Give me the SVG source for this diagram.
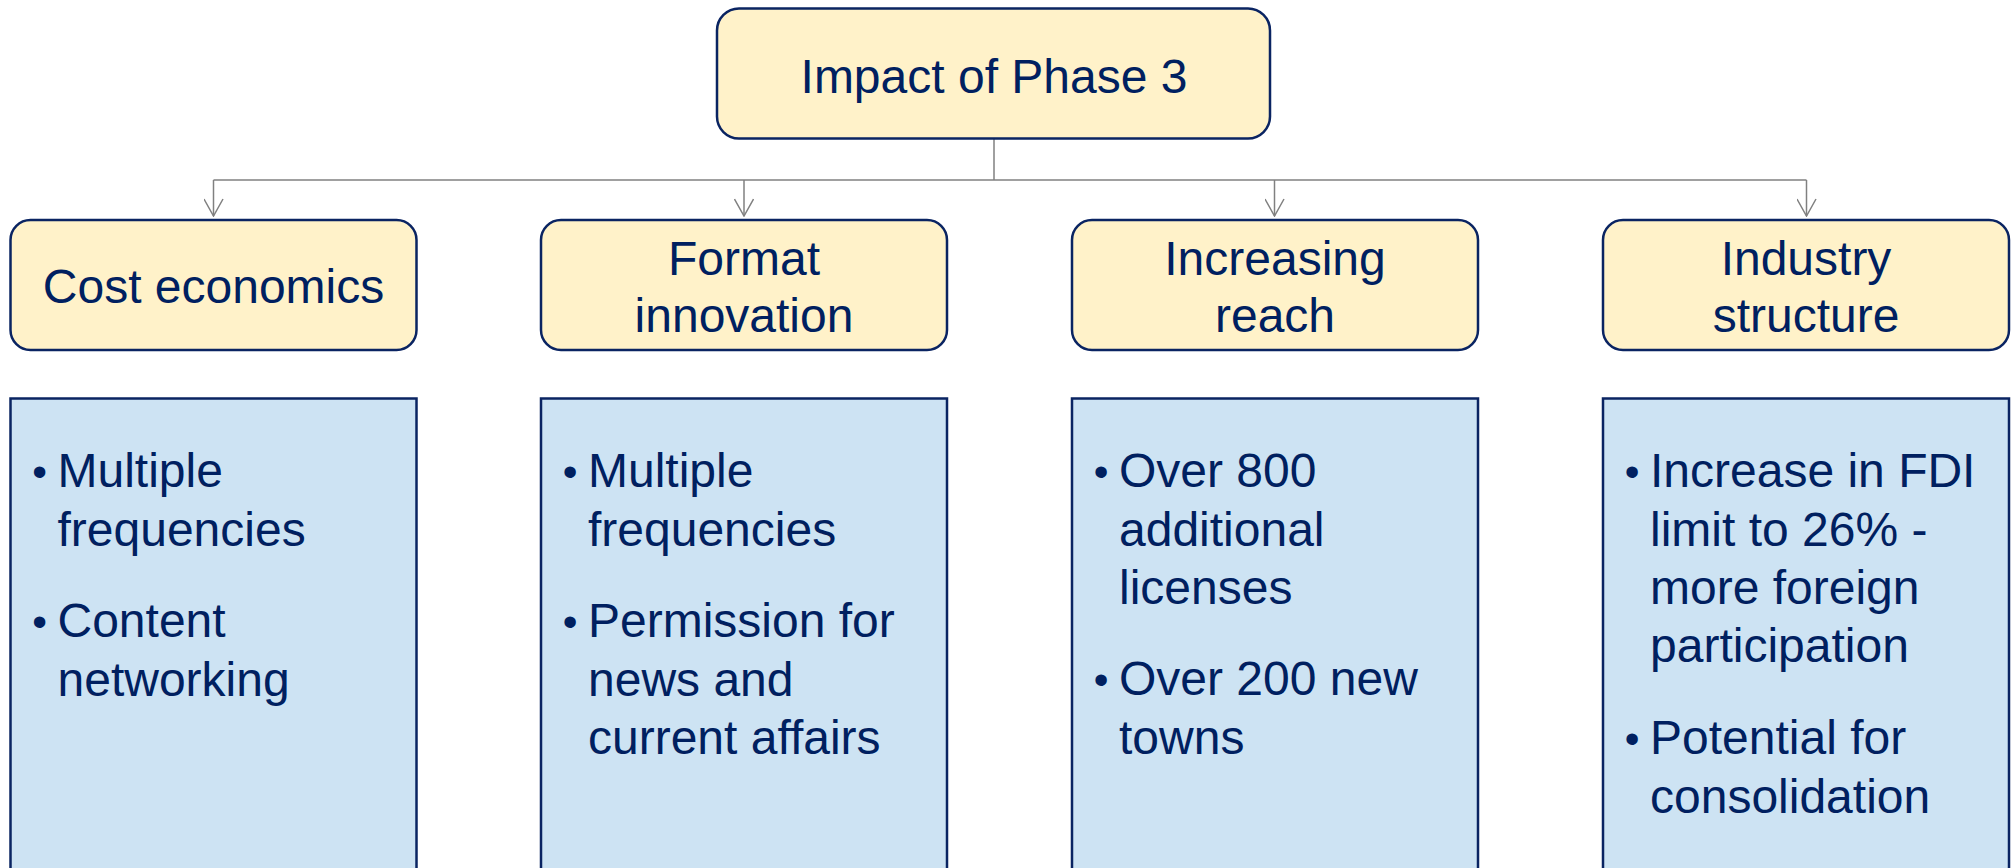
<svg xmlns="http://www.w3.org/2000/svg" width="2011" height="868" viewBox="0 0 2011 868">
<style>
.hdr{fill:#FFF2C9;stroke:#0A2462;stroke-width:2.5}
.body{fill:#CDE3F3;stroke:#0A2462;stroke-width:2.5}
.t{font-family:"Liberation Sans",Arial,sans-serif;font-size:48px;fill:#002060}
.c{text-anchor:middle}
.b{text-anchor:middle;font-size:42px}
.conn{fill:none;stroke:#808080;stroke-width:1.5}
</style>
<defs>
<marker id="arr" markerUnits="userSpaceOnUse" viewBox="0 0 20 20" refX="19" refY="10" markerWidth="20" markerHeight="20" orient="auto">
<path d="M2,0.5 L19,10 L2,19.5" fill="none" stroke="#808080" stroke-width="1.5"/>
</marker>
</defs>
<rect width="2011" height="868" fill="#FFFFFF"/>
<g id="connectors">
<path class="conn" d="M994,138 V180"/>
<path class="conn" d="M213.5,180 H1806.5"/>
<path class="conn" d="M213.5,180 V216" marker-end="url(#arr)"/>
<path class="conn" d="M744,180 V216" marker-end="url(#arr)"/>
<path class="conn" d="M1274.5,180 V216" marker-end="url(#arr)"/>
<path class="conn" d="M1806.5,180 V216" marker-end="url(#arr)"/>
</g>
<g id="root">
<rect class="hdr" x="717" y="8.5" width="553" height="130" rx="22"/>
<text class="t c" x="994" y="93">Impact of Phase 3</text>
</g>
<g id="cost-economics">
<rect class="hdr" x="10.5" y="220" width="406" height="130" rx="20"/>
<text class="t c" x="213.5" y="303">Cost economics</text>
</g>
<g id="format-innovation">
<rect class="hdr" x="541" y="220" width="406" height="130" rx="20"/>
<text class="t c" x="744" y="275">Format</text>
<text class="t c" x="744" y="332">innovation</text>
</g>
<g id="increasing-reach">
<rect class="hdr" x="1072" y="220" width="406" height="130" rx="20"/>
<text class="t c" x="1275" y="275">Increasing</text>
<text class="t c" x="1275" y="332">reach</text>
</g>
<g id="industry-structure">
<rect class="hdr" x="1603" y="220" width="406" height="130" rx="20"/>
<text class="t c" x="1806" y="275">Industry</text>
<text class="t c" x="1806" y="332">structure</text>
</g>
<g id="cost-details">
<rect class="body" x="10.5" y="398.5" width="406" height="490"/>
<text class="t b" x="39.5" y="486">•</text>
<text class="t" x="57.5" y="487">Multiple</text>
<text class="t" x="57.5" y="545.5">frequencies</text>
<text class="t b" x="39.5" y="636">•</text>
<text class="t" x="57.5" y="637">Content</text>
<text class="t" x="57.5" y="695.5">networking</text>
</g>
<g id="format-details">
<rect class="body" x="541" y="398.5" width="406" height="490"/>
<text class="t b" x="570" y="486">•</text>
<text class="t" x="588" y="487">Multiple</text>
<text class="t" x="588" y="545.5">frequencies</text>
<text class="t b" x="570" y="636">•</text>
<text class="t" x="588" y="637">Permission for</text>
<text class="t" x="588" y="695.5">news and</text>
<text class="t" x="588" y="754">current affairs</text>
</g>
<g id="reach-details">
<rect class="body" x="1072" y="398.5" width="406" height="490"/>
<text class="t b" x="1101" y="486">•</text>
<text class="t" x="1119" y="487">Over 800</text>
<text class="t" x="1119" y="545.5">additional</text>
<text class="t" x="1119" y="604">licenses</text>
<text class="t b" x="1101" y="694">•</text>
<text class="t" x="1119" y="695">Over 200 new</text>
<text class="t" x="1119" y="753.5">towns</text>
</g>
<g id="structure-details">
<rect class="body" x="1603" y="398.5" width="406" height="490"/>
<text class="t b" x="1632" y="486">•</text>
<text class="t" x="1650" y="487">Increase in FDI</text>
<text class="t" x="1650" y="545.5">limit to 26% -</text>
<text class="t" x="1650" y="604">more foreign</text>
<text class="t" x="1650" y="662">participation</text>
<text class="t b" x="1632" y="753">•</text>
<text class="t" x="1650" y="754">Potential for</text>
<text class="t" x="1650" y="812.5">consolidation</text>
</g>
</svg>
